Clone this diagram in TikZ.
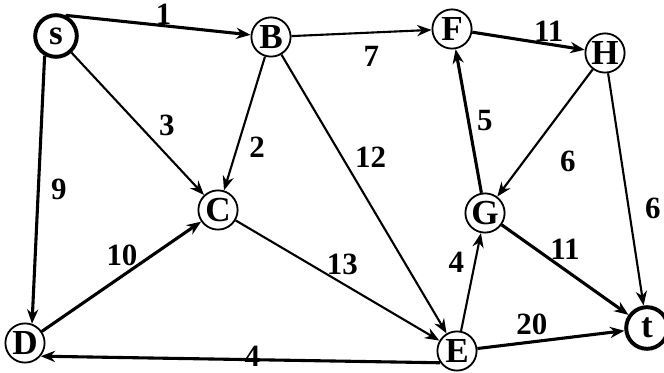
\documentclass[tikz,border=0pt]{standalone}
\usepackage{fontspec}
\setmainfont{Liberation Serif}
\usetikzlibrary{arrows.meta, positioning}

\begin{document}
\begin{tikzpicture}[x=0.025cm, y=-0.025cm,
    vert/.style={circle, draw, line width=1.3pt, minimum size=0.98cm, inner sep=0pt,
                 font=\fontsize{25}{27}\selectfont\bfseries},
    term/.style={vert, line width=2.8pt, minimum size=1.04cm},
    arr/.style={-{Stealth[length=3.6mm, width=2.8mm]}, line width=1.5pt},
    arrb/.style={arr, line width=2.2pt},
    wlabel/.style={font=\fontsize{22}{24}\selectfont\bfseries, inner sep=1pt},
]
\useasboundingbox (0,0) rectangle (664,373);

\node[term] (s) at (56,36) {s};
\node[vert] (B) at (271,37) {B};
\node[vert] (F) at (452,29) {F};
\node[vert] (H) at (605,53) {H};
\node[vert] (C) at (218,210) {C};
\node[vert] (G) at (485,213) {G};
\node[vert] (D) at (25,343) {D};
\node[vert] (E) at (457,351) {E};
\node[term] (t) at (647,328) {t};

\draw[arrb] (s.65) -- (B) node[wlabel, pos=.53, above=-1pt] {1};
\draw[arr] (B) -- (F) node[wlabel, pos=.57, below=8pt] {7};
\draw[arrb] (F) -- (H) node[wlabel, pos=.68, above=0pt] {11};
\draw[arr] (s) -- (C) node[wlabel, pos=.62, above right=3pt] {3};
\draw[arr] (B) -- (C) node[wlabel, pos=.68, right=7pt] {2};
\draw[arr] (B) -- (E) node[wlabel, pos=.42, above right=2pt] {12};
\draw[arrb] (G) -- (F) node[wlabel, pos=.5, right=4pt] {5};
\draw[arr] (H) -- (G) node[wlabel, pos=.72, right=24pt] {6};
\draw[arr] (H) -- (t) node[wlabel, pos=.58, right=10pt] {6};
\draw[arrb] (s.240) -- (D.70) node[wlabel, pos=.5, right=7pt] {9};
\draw[arrb] (D) -- (C) node[wlabel, pos=.6, above left=-3pt] {10};
\draw[arr] (C) -- (E) node[wlabel, pos=.45, above right=-3pt] {13};
\draw[arr] (E) -- (G) node[wlabel, pos=.7, left=6pt] {4};
\draw[arrb] (G) -- (t) node[wlabel, pos=.5, above=5pt] {11};
\draw[arrb] (E) -- (t) node[wlabel, pos=.37, above=3pt] {20};
\draw[arrb] (E.215) -- (D.-40) node[wlabel, pos=.47, above=-7pt] {4};

\end{tikzpicture}
\end{document}
